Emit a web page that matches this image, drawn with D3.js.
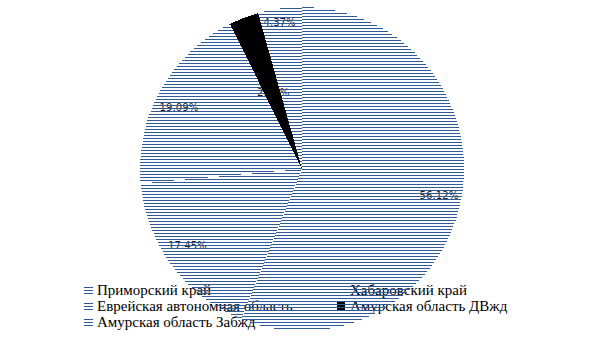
<!DOCTYPE html>
<html>
<head>
<meta charset="utf-8">
<script src="https://cdn.jsdelivr.net/npm/d3@7"></script>
<style>
  body { margin: 0; background: #fff; }
  svg { display: block; }
</style>
</head>
<body>
<svg id="chart" width="605" height="340"></svg>
<script>
// data, in the order of the legend
const regions = ["Приморский край", "Хабаровский край", "Еврейская автономная область", "Амурская область ДВжд", "Амурская область Забжд"];
const shares = [56.12, 17.45, 19.09, 2.97, 4.37];
const labels = ["56.12%", "17.45%", "19.09%", "2.97%", "4.37%"];

const width = 605, height = 340;
const cx = 302, cy = 169, radius = 162;
const lineColor = "#2e5a9a";

// label placement: fraction of radius + small angle nudge (deg), like excel's best fit
const labelR = [0.861, 0.852, 0.848, 0.504, 0.918];
const labelTurn = [-0.3, 2.7, -2.8, 0.4, -0.8];
const hatchShift = [0, 1, 2, 0, 1];

const svg = d3.select("#chart");
const defs = svg.append("defs");

// horizontal line hatch, a few phases
[0, 1, 2].forEach(k => {
  const p = defs.append("pattern")
    .attr("id", "hatch" + k)
    .attr("patternUnits", "userSpaceOnUse")
    .attr("width", width)
    .attr("height", 3)
    .attr("y", k);
  p.append("rect")
    .attr("width", width)
    .attr("height", 1)
    .attr("fill", lineColor);
});

const fillFor = i => i === 3 ? "#000" : `url(#hatch${hatchShift[i]})`;

const pie = d3.pie().sort(null).value(d => d);
const arcs = pie(shares);
const arc = d3.arc().innerRadius(0).outerRadius(radius);

const labelAngle = (d, i) => (d.startAngle + d.endAngle) / 2 + labelTurn[i] * Math.PI / 180;

// labels and legend go underneath the pie (the hatch is see-through)
const labelG = svg.append("g").attr("transform", `translate(${cx},${cy})`);
labelG.selectAll("text")
  .data(arcs)
  .join("text")
  .attr("x", (d, i) => Math.sin(labelAngle(d, i)) * radius * labelR[i])
  .attr("y", (d, i) => -Math.cos(labelAngle(d, i)) * radius * labelR[i])
  .attr("dy", "0.35em")
  .attr("text-anchor", "middle")
  .attr("font-family", "DejaVu Sans, sans-serif")
  .attr("font-size", 10.2)
  .attr("fill", "#222")
  .text((d, i) => labels[i]);

// legend: 2 columns, row-wise
const legendX = [84, 337], legendY = [295, 311, 327];
const legend = svg.append("g");
regions.forEach((name, i) => {
  const x = legendX[i % 2], y = legendY[Math.floor(i / 2)];
  const g = legend.append("g");
  if (i === 3) {
    g.append("rect").attr("x", x).attr("y", y - 9).attr("width", 8).attr("height", 8).attr("fill", "#000");
  } else if (i !== 1) {
    [-8, -5, -2].forEach(o => {
      g.append("rect").attr("x", x).attr("y", y + o).attr("width", 9).attr("height", 1).attr("fill", lineColor);
    });
  }
  g.append("text")
    .attr("x", x + 13)
    .attr("y", y)
    .attr("font-family", "Liberation Serif, serif")
    .attr("font-size", 15)
    .attr("fill", "#000")
    .text(name);
});

svg.append("g")
  .attr("transform", `translate(${cx},${cy})`)
  .selectAll("path")
  .data(arcs)
  .join("path")
  .attr("d", arc)
  .attr("fill", (d, i) => fillFor(i))
  .attr("shape-rendering", "crispEdges");
</script>
</body>
</html>
